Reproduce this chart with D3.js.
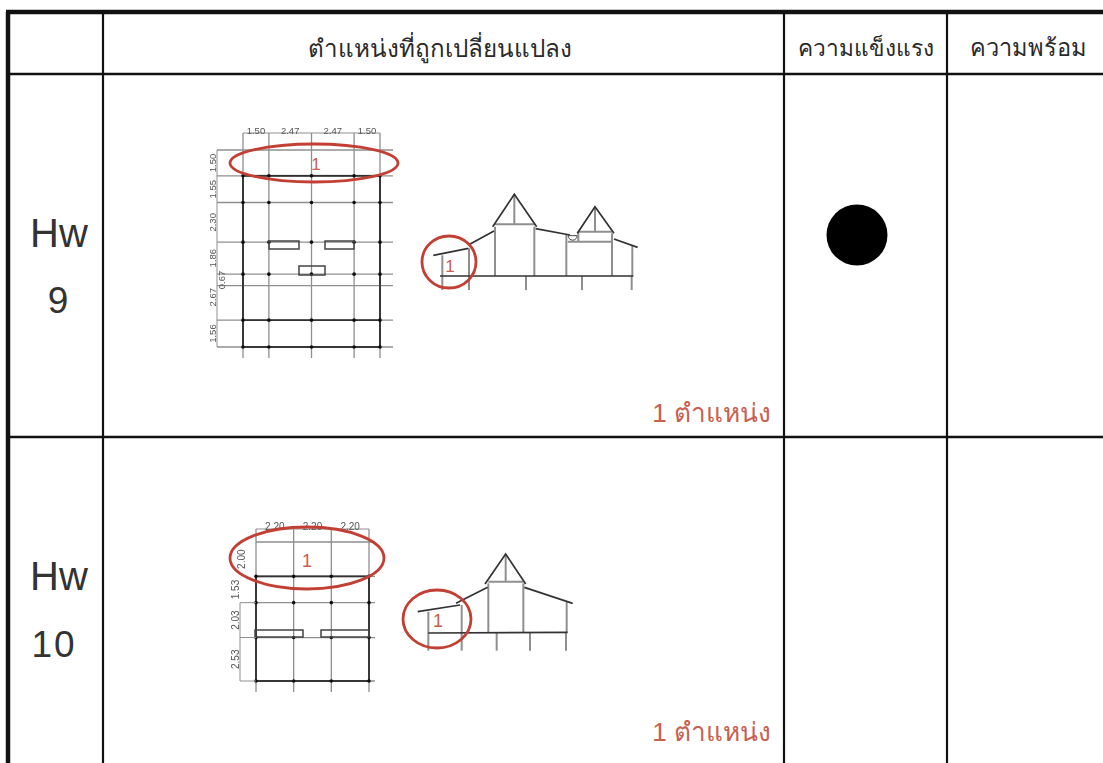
<!doctype html>
<html lang="th">
<head>
<meta charset="UTF-8">
<title>Hw 9 - Hw 10</title>
<script src="https://cdn.jsdelivr.net/npm/d3@7"></script>
<style>
  html, body { margin: 0; padding: 0; background: #fff; }
  svg { display: block; }
  text { font-family: "Liberation Sans", "Noto Sans", sans-serif; }
</style>
</head>
<body>
<script>
  // table content
  var headers = ['', 'ตำแหน่งที่ถูกเปลี่ยนแปลง', 'ความแข็งแรง', 'ความพร้อม'];
  var rowNames = [['Hw', '9'], ['Hw', '10']];
  var changeLabels = ['1 ตำแหน่ง', '1 ตำแหน่ง'];

  // plan dimensions in metres
  var plan9X = [1.50, 2.47, 2.47, 1.50];
  var plan9Y = [1.50, 1.55, 2.30, 1.86, 0.67, 2.00, 1.56];
  var plan9YLabels = ['1.50', '1.55', '2.30', '1.86', '0.67', '2.67', '1.56'];
  var plan10X = [2.20, 2.20, 2.20];
  var plan10Y = [2.00, 1.53, 2.03, 2.53];

  // section outlines in sketch units
  var section9Dark = [
    [[55,226],[160,205]], [[160,195],[237,153]],
    [[233,140],[298,43],[365,140]], [[362,146],[465,165]],
    [[487,160],[540,80],[597,160]], [[597,177],[668,202]],
    [[75,288],[655,288]]
  ];
  var section9Grey = [
    [[82,226],[82,330]], [[162,205],[162,330]], [[333,288],[333,330]], [[501,288],[501,330]], [[650,288],[650,330]],
    [[240,140],[240,288]], [[358,140],[358,288]], [[454,165],[454,288]], [[591,160],[591,288]], [[652,197],[652,288]],
    [[237,133],[360,133]], [[298,43],[298,133]], [[458,185],[590,185]],
    [[490,155],[592,155]], [[540,80],[540,155]], [[490,155],[490,185]]
  ];
  var section10Dark = [
    [[68,215],[195,195]], [[183,190],[278,142]],
    [[270,132],[332,42],[392,132]], [[388,142],[533,190]],
    [[100,279],[518,277]]
  ];
  var section10Grey = [
    [[100,215],[100,332]], [[200,195],[200,332]], [[305,277],[305,332]], [[405,277],[405,332]], [[513,277],[513,332]],
    [[280,130],[280,277]], [[385,130],[385,277]], [[515,185],[515,277]],
    [[280,125],[385,125]], [[332,42],[332,125]]
  ];

  var width = 1103, height = 763;
  var red = '#c23f33', redText = '#c8604f', grey = '#8f8f8f';

  var svg = d3.select('body').append('svg').attr('width', width).attr('height', height);

  // the drawings are soft in the source scan
  svg.append('defs').append('filter').attr('id', 'soft')
    .append('feGaussianBlur').attr('stdDeviation', 0.35);

  // table frame
  var colEdges = [8, 103, 784, 947, 1103];
  var rowEdges = [12, 74, 437, 763];
  var frame = svg.append('g').attr('stroke', '#111').attr('fill', 'none');
  frame.append('line').attr('x1', 6).attr('x2', width).attr('y1', rowEdges[0]).attr('y2', rowEdges[0]).attr('stroke-width', 4.5);
  rowEdges.slice(1, 3).forEach(function(y) {
    frame.append('line').attr('x1', 8).attr('x2', width).attr('y1', y).attr('y2', y).attr('stroke-width', 2.4);
  });
  colEdges.slice(0, 4).forEach(function(x, i) {
    frame.append('line').attr('x1', x).attr('x2', x).attr('y1', rowEdges[0]).attr('y2', height).attr('stroke-width', i ? 2.2 : 4.5);
  });

  // header
  var headerShift = [0, -4, 0, 3.5];
  var headerSize = [0, 24.2, 22.7, 23.6];
  var headerBase = [0, 57, 56, 56];
  headers.forEach(function(h, i) {
    svg.append('text').attr('x', (colEdges[i] + colEdges[i + 1]) / 2 + headerShift[i]).attr('y', headerBase[i])
      .attr('text-anchor', 'middle').attr('font-size', headerSize[i]).attr('fill', '#2a2a2a').text(h);
  });

  // row names
  var rowTextY = [[247, 313], [590, 657]];
  var rowTextX = [[59, 58], [59, 54]];
  var rowTextSize = [40, 37];
  rowNames.forEach(function(r, i) {
    r.forEach(function(t, j) {
      svg.append('text').attr('x', rowTextX[i][j]).attr('y', rowTextY[i][j]).attr('text-anchor', 'middle')
        .attr('font-size', rowTextSize[j]).attr('letter-spacing', j && t.length > 1 ? 2 : 0).attr('fill', '#333').text(t);
    });
  });

  // red count labels
  var countY = [422, 741];
  changeLabels.forEach(function(t, i) {
    svg.append('text').attr('x', 771).attr('y', countY[i]).attr('text-anchor', 'end')
      .attr('font-size', 26.2).attr('fill', redText).text(t);
  });

  // the one filled rating dot
  svg.append('circle').attr('cx', 857).attr('cy', 235).attr('r', 30.5).attr('fill', '#000');

  function cumulate(spans) {
    var out = [0];
    spans.forEach(function(s) { out.push(out[out.length - 1] + s); });
    return out;
  }

  // plan grid: light grid lines, dark outline, column dots
  function drawPlan(o) {
    var g = svg.append('g').attr('filter', 'url(#soft)');
    var xs = cumulate(o.spansX), ys = cumulate(o.spansY);
    var x = d3.scaleLinear().domain([0, d3.sum(o.spansX)]).range(o.rangeX);
    var y = d3.scaleLinear().domain([0, d3.sum(o.spansY)]).range(o.rangeY);

    g.selectAll('.gv').data(xs).enter().append('line')
      .attr('x1', x).attr('x2', x).attr('y1', o.rangeY[0] - o.overTop).attr('y2', o.rangeY[1] + 11)
      .attr('stroke', grey).attr('stroke-width', 1.3);
    g.selectAll('.gh').data(ys).enter().append('line')
      .attr('y1', y).attr('y2', y).attr('x1', o.rangeX[0] - o.overLeft).attr('x2', o.rangeX[1] + o.overRight)
      .attr('stroke', grey).attr('stroke-width', 1.3);

    var top = y(ys[1]);
    g.append('rect').attr('x', o.rangeX[0]).attr('y', top)
      .attr('width', o.rangeX[1] - o.rangeX[0]).attr('height', o.rangeY[1] - top)
      .attr('fill', 'none').attr('stroke', '#333').attr('stroke-width', 1.9);
    o.darkRows.forEach(function(k) {
      g.append('line').attr('x1', o.rangeX[0]).attr('x2', o.rangeX[1]).attr('y1', y(ys[k])).attr('y2', y(ys[k]))
        .attr('stroke', '#333').attr('stroke-width', 1.9);
    });

    // dots where columns sit
    o.dotRows.forEach(function(k) {
      g.selectAll(null).data(xs).enter().append('circle')
        .attr('cx', x).attr('cy', y(ys[k])).attr('r', 1.8).attr('fill', '#111');
    });

    // dimension line and labels along the top
    g.append('line').attr('x1', o.rangeX[0]).attr('x2', o.rangeX[1])
      .attr('y1', o.rangeY[0] - o.overTop).attr('y2', o.rangeY[0] - o.overTop)
      .attr('stroke', grey).attr('stroke-width', 1);
    xs.slice(0, -1).forEach(function(v, i) {
      g.append('text').attr('x', x(v + o.spansX[i] / 2)).attr('y', o.rangeY[0] - o.labelTop)
        .attr('text-anchor', 'middle').attr('font-size', o.fs).attr('fill', '#555').text(o.spansX[i].toFixed(2));
    });
    return { x: x, y: y, xs: xs, ys: ys, g: g };
  }

  function sideLabel(g, txt, px, py, fs) {
    g.append('text').attr('transform', 'translate(' + px + ',' + py + ') rotate(-90)')
      .attr('text-anchor', 'middle').attr('font-size', fs).attr('fill', '#555').text(txt);
  }

  function windowBox(g, x0, x1, y0, y1) {
    g.append('rect').attr('x', x0).attr('y', y0).attr('width', x1 - x0).attr('height', y1 - y0)
      .attr('fill', 'none').attr('stroke', '#444').attr('stroke-width', 1.5);
  }

  function drawSection(darkLines, greyLines, sx, sy) {
    var g = svg.append('g').attr('fill', 'none').attr('filter', 'url(#soft)');
    var line = d3.line().x(function(d) { return sx(d[0]); }).y(function(d) { return sy(d[1]); });
    g.selectAll('.s-grey').data(greyLines).enter().append('path').attr('d', line)
      .attr('stroke', '#8f8f8f').attr('stroke-width', 2);
    g.selectAll('.s-dark').data(darkLines).enter().append('path').attr('d', line)
      .attr('stroke', '#333').attr('stroke-width', 1.7);
    return g;
  }

  function redMark(cx, cy, rx, ry, lx, ly, fs) {
    svg.append('ellipse').attr('cx', cx).attr('cy', cy).attr('rx', rx).attr('ry', ry)
      .attr('fill', 'none').attr('stroke', red).attr('stroke-width', 2.8);
    svg.append('text').attr('x', lx).attr('y', ly).attr('text-anchor', 'middle')
      .attr('font-size', fs).attr('fill', redText).text('1');
  }

  // Hw 9 plan
  var p9 = drawPlan({
    spansX: plan9X, spansY: plan9Y, rangeX: [243, 380], rangeY: [150, 347],
    overTop: 17, overLeft: 26, overRight: 13, labelTop: 16, fs: 9.5,
    darkRows: [6], dotRows: [1, 2, 3, 4, 6, 7]
  });
  windowBox(p9.g, 269, 299, 241, 249);
  windowBox(p9.g, 325, 354, 241, 249);
  windowBox(p9.g, 299, 325, 266, 275);
  var yc9 = p9.ys;
  [0, 1, 2, 3, 5, 6].forEach(function(k) {
    var mid = k === 5 ? (yc9[4] + yc9[6]) / 2 : (yc9[k] + yc9[k + 1]) / 2;
    sideLabel(p9.g, plan9YLabels[k], 216, p9.y(mid), 9.5);
  });
  sideLabel(p9.g, plan9YLabels[4], 225, p9.y((yc9[4] + yc9[5]) / 2), 9.5);
  p9.g.append('line').attr('x1', 217).attr('x2', 217).attr('y1', p9.y(0)).attr('y2', p9.y(d3.sum(plan9Y))).attr('stroke', grey);

  // Hw 10 plan
  var p10 = drawPlan({
    spansX: plan10X, spansY: plan10Y, rangeX: [256, 369], rangeY: [542, 681],
    overTop: 13, overLeft: 0, overRight: 6, labelTop: 12, fs: 10,
    darkRows: [], dotRows: [1, 2, 3, 4]
  });
  windowBox(p10.g, 255, 303, 630, 637);
  windowBox(p10.g, 321, 369, 630, 637);
  [0, 1, 2, 3].forEach(function(k) {
    sideLabel(p10.g, plan10Y[k].toFixed(2), k === 0 ? 245 : 239, p10.y((p10.ys[k] + p10.ys[k + 1]) / 2), 10);
  });
  p10.g.append('line').attr('x1', 240).attr('x2', 240).attr('y1', p10.y(3.53)).attr('y2', p10.y(8.09)).attr('stroke', grey);
  p10.ys.slice(2).forEach(function(v) {
    p10.g.append('line').attr('x1', 240).attr('x2', 256).attr('y1', p10.y(v)).attr('y2', p10.y(v)).attr('stroke', grey);
  });

  // Hw 9 section
  var s9x = d3.scaleLinear().domain([0, 720]).range([415, 655]);
  var s9y = d3.scaleLinear().domain([0, 360]).range([180, 300]);
  var s9 = drawSection(section9Dark, section9Grey, s9x, s9y);
  s9.append('path').attr('d', d3.arc()({ innerRadius: 0, outerRadius: 4.5, startAngle: Math.PI / 2, endAngle: Math.PI * 1.5 }))
    .attr('transform', 'translate(' + s9x(473) + ',' + s9y(167) + ')').attr('fill', '#fff').attr('stroke', '#444');

  // Hw 10 section
  var s10x = d3.scaleLinear().domain([0, 570]).range([395, 585]);
  var s10y = d3.scaleLinear().domain([0, 360]).range([540, 660]);
  drawSection(section10Dark, section10Grey, s10x, s10y);

  // red call-outs on top
  redMark(314, 163, 84, 19, 316, 170, 17);
  redMark(449, 262, 27, 26, 450, 272, 17);
  redMark(307, 558, 77, 31, 307, 567, 18);
  redMark(437, 619, 34, 29, 438, 627, 18);
</script>
</body>
</html>
